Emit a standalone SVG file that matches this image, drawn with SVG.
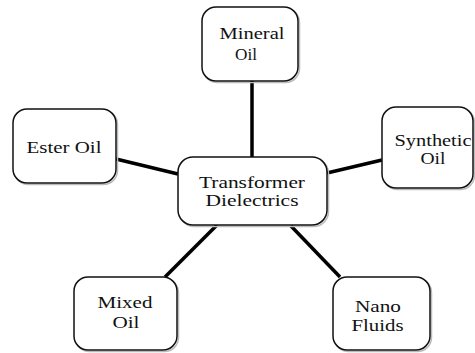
<svg xmlns="http://www.w3.org/2000/svg" width="475" height="353" viewBox="0 0 475 353">
<style>
.box{fill:#fff;stroke:#111;stroke-width:1.5}
.sh{fill:none;stroke:#bbb;stroke-width:1.5}
.lbl{font-family:'Liberation Serif','DejaVu Serif',serif;font-size:16.5px;fill:#111;text-anchor:middle}
.con{stroke:#000;stroke-width:3.5;stroke-linecap:butt;fill:none}
</style>
<rect width="475" height="353" fill="#fff"/>
<g id="connectors">
<line class="con" x1="252" y1="81" x2="252" y2="157"/>
<line class="con" x1="116" y1="159" x2="178" y2="174"/>
<line class="con" x1="382" y1="160" x2="327" y2="173"/>
<line class="con" x1="217" y1="225" x2="165" y2="277"/>
<line class="con" x1="291" y1="226" x2="340" y2="277"/>
</g>
<g font-family="Liberation Serif, DejaVu Serif, serif">
<g id="mineral">
<rect class="sh" x="203.5" y="8.5" width="96" height="74" rx="14"/>
<rect class="box" x="202" y="7" width="96" height="74" rx="14"/>
<text class="lbl" x="252" y="39" textLength="65" lengthAdjust="spacingAndGlyphs">Mineral</text>
<text class="lbl" x="246" y="60" textLength="22" lengthAdjust="spacingAndGlyphs">Oil</text>
</g>
<g id="ester">
<rect class="sh" x="14.5" y="110.5" width="103" height="74" rx="14"/>
<rect class="box" x="13" y="109" width="103" height="74" rx="14"/>
<text class="lbl" x="64" y="153" textLength="75" lengthAdjust="spacingAndGlyphs">Ester Oil</text>
</g>
<g id="synthetic">
<rect class="sh" x="383.5" y="108.5" width="91" height="81" rx="14"/>
<rect class="box" x="382" y="107" width="91" height="81" rx="14"/>
<text class="lbl" x="433" y="146" textLength="77" lengthAdjust="spacingAndGlyphs">Synthetic</text>
<text class="lbl" x="433" y="164" textLength="25" lengthAdjust="spacingAndGlyphs">Oil</text>
</g>
<g id="center">
<rect class="sh" x="179.5" y="158.5" width="149" height="68" rx="15"/>
<rect class="box" x="178" y="157" width="149" height="68" rx="15"/>
<text class="lbl" x="252" y="188" textLength="106" lengthAdjust="spacingAndGlyphs">Transformer</text>
<text class="lbl" x="252" y="206" textLength="93" lengthAdjust="spacingAndGlyphs">Dielectrics</text>
</g>
<g id="mixed">
<rect class="sh" x="75.5" y="278.5" width="103" height="73" rx="14"/>
<rect class="box" x="74" y="277" width="103" height="73" rx="14"/>
<text class="lbl" x="125" y="308" textLength="55" lengthAdjust="spacingAndGlyphs">Mixed</text>
<text class="lbl" x="126" y="328" textLength="27" lengthAdjust="spacingAndGlyphs">Oil</text>
</g>
<g id="nano">
<rect class="sh" x="334.5" y="278.5" width="97" height="73" rx="14"/>
<rect class="box" x="333" y="277" width="97" height="73" rx="14"/>
<text class="lbl" x="378" y="312" textLength="46" lengthAdjust="spacingAndGlyphs">Nano</text>
<text class="lbl" x="377.5" y="331" textLength="52" lengthAdjust="spacingAndGlyphs">Fluids</text>
</g>
</g>
</svg>
